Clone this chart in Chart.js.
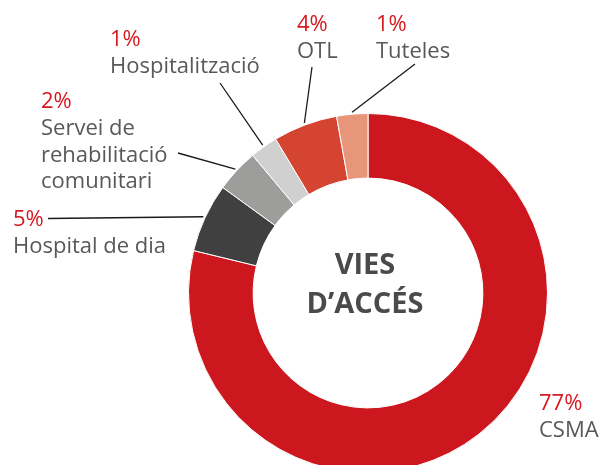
<!DOCTYPE html>
<html>
<head>
<meta charset="utf-8">
<script src="https://cdn.jsdelivr.net/npm/chart.js@4/dist/chart.umd.min.js"></script>
<style>
  html, body { margin: 0; padding: 0; background: #ffffff; overflow: hidden; width: 603px; height: 465px; }
  #wrap { position: absolute; left: 0; top: 0; width: 603px; height: 481px; }
</style>
</head>
<body>
<div id="wrap"><canvas id="c" width="603" height="481"></canvas></div>
<script>
// ---- data ----
const categories = ['CSMA', 'Hospital de dia', 'Servei de rehabilitació comunitari', 'Hospitalització', 'OTL', 'Tuteles'];
// share of the ring taken by each slice (measured from the arcs)
const shares = [78.8, 6.2, 3.9, 2.5, 5.8, 2.8];
// percentages printed on the labels
const percentLabels = ['77%', '5%', '2%', '1%', '4%', '1%'];
// label text lines
const nameLines = [['CSMA'], ['Hospital de dia'], ['Servei de', 'rehabilitació', 'comunitari'], ['Hospitalització'], ['OTL'], ['Tuteles']];
const centerTitle = ['VIES', 'D\u2019ACCÉS'];
const colors = ['#cd171e', '#404040', '#9d9d9c', '#d0d0d0', '#d44430', '#e8967b'];

// ---- layout of the labels (positions only) ----
const labelLayout = [
  { x: 539, y: 410, leader: null },
  { x: 13, y: 226, leader: [48, 218.5] },
  { x: 41, y: 108, leader: [178, 153] },
  { x: 110, y: 46, leader: [220, 83] },
  { x: 297, y: 31, leader: [312, 67] },
  { x: 376, y: 31, leader: [415, 64] }
];
const LINE_H = 26.8;

const labelPlugin = {
  id: 'labels',
  afterDraw(chart) {
    const ctx = chart.ctx;
    const meta = chart.getDatasetMeta(0);
    ctx.save();
    // leader lines
    meta.data.forEach((arc, i) => {
      const L = labelLayout[i];
      if (!L.leader) return;
      const p = arc.getProps(['x', 'y', 'startAngle', 'endAngle', 'outerRadius'], true);
      const mid = (p.startAngle + p.endAngle) / 2;
      const r = p.outerRadius + 2;
      ctx.beginPath();
      ctx.moveTo(L.leader[0], L.leader[1]);
      ctx.lineTo(p.x + Math.cos(mid) * r, p.y + Math.sin(mid) * r);
      ctx.strokeStyle = '#1a1a1a';
      ctx.lineWidth = 1.3;
      ctx.stroke();
    });
    // text labels
    ctx.textAlign = 'left';
    ctx.textBaseline = 'alphabetic';
    ctx.font = '22px "Open Sans"';
    categories.forEach((c, i) => {
      const L = labelLayout[i];
      ctx.fillStyle = '#d71920';
      ctx.fillText(percentLabels[i], L.x, L.y);
      ctx.fillStyle = '#585858';
      nameLines[i].forEach((t, k) => ctx.fillText(t, L.x, L.y + LINE_H * (k + 1)));
    });
    // centre title
    ctx.textAlign = 'center';
    ctx.font = 'bold 29px "Open Sans"';
    ctx.fillStyle = '#4a4a4a';
    ctx.fillText(centerTitle[0], 365, 273.5);
    ctx.fillText(centerTitle[1], 365, 312.5);
    ctx.restore();
  }
};

function draw() {
  new Chart(document.getElementById('c'), {
    type: 'doughnut',
    data: {
      labels: categories,
      datasets: [{
        data: shares,
        backgroundColor: colors,
        borderColor: '#ffffff',
        borderWidth: 1
      }]
    },
    options: {
      responsive: false,
      animation: false,
      cutout: '64%',
      rotation: 0,
      layout: { padding: { left: 188, top: 113, right: 55, bottom: 8 } },
      plugins: { legend: { display: false }, tooltip: { enabled: false } }
    },
    plugins: [labelPlugin]
  });
}
if (document.fonts && document.fonts.load) {
  Promise.all([document.fonts.load('22px "Open Sans"'), document.fonts.load('bold 29px "Open Sans"')]).then(draw, draw);
} else { draw(); }
</script>
</body>
</html>
